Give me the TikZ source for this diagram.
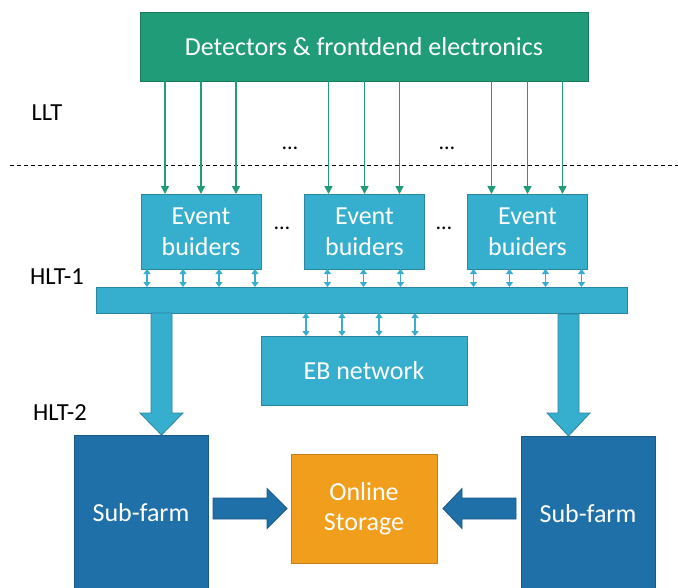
\documentclass[tikz,border=0pt]{standalone}
\usepackage{fontspec}
\setmainfont{Carlito}
\usetikzlibrary{positioning, arrows.meta, calc}

\definecolor{detgreen}{RGB}{33,156,120}
\definecolor{detgreenD}{RGB}{24,120,92}
\definecolor{ebcyan}{RGB}{54,174,206}
\definecolor{ebcyanD}{RGB}{40,134,160}
\definecolor{farmblue}{RGB}{31,111,168}
\definecolor{farmblueD}{RGB}{25,88,135}
\definecolor{stororange}{RGB}{240,158,27}
\definecolor{stororangeD}{RGB}{196,128,22}

\begin{document}
\begin{tikzpicture}[
    x=1pt, y=-1pt,
    block/.style={draw, line width=1pt, inner sep=0pt, outer sep=0pt, align=center,
                  text=white, font=\fontsize{26}{31}\selectfont},
    detbox/.style={block, fill=detgreen, draw=detgreenD},
    ebbox/.style={block, fill=ebcyan, draw=ebcyanD},
    farmbox/.style={block, fill=farmblue, draw=farmblueD},
    storbox/.style={block, fill=stororange, draw=stororangeD, font=\fontsize{26}{30}\selectfont},
    garrow/.style={-{Triangle[length=8pt, width=8pt]}, line width=1.6pt, draw=detgreen},
    biarrow/.style={{Triangle[length=5pt, width=7pt]}-{Triangle[length=5pt, width=7pt]}, line width=1.3pt, draw=ebcyan},
    fatdown/.style={fill=ebcyan, draw=ebcyanD, line width=0.8pt},
    fatside/.style={fill=farmblue, draw=farmblueD, line width=0.8pt},
    levellabel/.style={font=\fontsize{24.5}{28}\selectfont},
    dots/.style={font=\fontsize{22}{26}\selectfont},
]
\useasboundingbox (0,0) rectangle (678,587);

\node[detbox, minimum width=448pt, minimum height=69pt] (det) at (364,46.5) {Detectors \& frontdend electronics};

\node[ebbox, minimum width=120pt, minimum height=75pt] (eb1) at (201,231.5) {Event\\buiders};
\node[ebbox, minimum width=120pt, minimum height=75pt] (eb2) at (364.5,231.5) {Event\\buiders};
\node[ebbox, minimum width=120pt, minimum height=75pt] (eb3) at (527.5,231.5) {Event\\buiders};

\node[ebbox, minimum width=531pt, minimum height=26pt] (bar) at (361.5,300) {};
\node[ebbox, minimum width=206pt, minimum height=69pt] (ebn) at (364,370.5) {EB network};

\node[farmbox, minimum width=134pt, minimum height=155pt] (sf1) at (141,512.5) {Sub-farm};
\node[farmbox, minimum width=134pt, minimum height=155pt] (sf2) at (588,513.5) {Sub-farm};
\node[storbox, minimum width=146pt, minimum height=109pt] (stor) at (364,508.5) {Online\\Storage};

% trigger levels
\node[levellabel] (llt) at (47,113) {LLT};
\node[levellabel] (hlt1) at (57,277) {HLT-1};
\node[levellabel] (hlt2) at (60,413) {HLT-2};

\coordinate (dashL) at (10,165.5);
\coordinate (dashR) at (678,165.5);
\draw[dashed, dash pattern=on 4pt off 3pt, line width=0.9pt] (dashL) -- (dashR);

\node[dots] (d1) at (290,148) {…};
\node[dots] (d2) at (447,148) {…};
\node[dots] (d3) at (282,228) {…};
\node[dots] (d4) at (444,228) {…};

% detector links
\foreach \e in {eb1, eb2, eb3}{
    \foreach \dx in {-36, 0, 35}{
        \draw[garrow] ([xshift=\dx pt]\e.north |- det.south) -- ([xshift=\dx pt]\e.north);
    }
}

% builders to bar
\foreach \e/\offs in {eb1/{-54,-18,18,54}, eb2/{-37,-1,36}, eb3/{-54,-18,18,54}}{
    \foreach \dx in \offs{
        \draw[biarrow] ([xshift=\dx pt]\e.south) -- ([xshift=\dx pt]\e.south |- bar.north);
    }
}
\foreach \dx in {-58, -22, 15, 51}{
    \draw[biarrow] ([xshift=\dx pt]ebn.north |- bar.south) -- ([xshift=\dx pt]ebn.north);
}

% bar to sub-farms
\draw[fatdown] ([xshift=20.5pt]sf1.north) -- ++(-21.5,-22) -- ++(11,0) -- ++(0,-100)
    -- ++(21,0) -- ++(0,100) -- ++(11,0) -- cycle;
\draw[fatdown] ([xshift=-19.5pt]sf2.north) -- ++(-21.5,-23) -- ++(11,0) -- ++(0,-99)
    -- ++(21,0) -- ++(0,99) -- ++(11,0) -- cycle;

% sub-farms to storage
\draw[fatside] ([xshift=-4pt]stor.west) -- ++(-20,-20) -- ++(0,9.5) -- ++(-54,0)
    -- ++(0,21) -- ++(54,0) -- ++(0,9.5) -- cycle;
\draw[fatside] ([xshift=6pt]stor.east) -- ++(19,-20) -- ++(0,9.5) -- ++(54,0)
    -- ++(0,21) -- ++(-54,0) -- ++(0,9.5) -- cycle;

\end{tikzpicture}
\end{document}
